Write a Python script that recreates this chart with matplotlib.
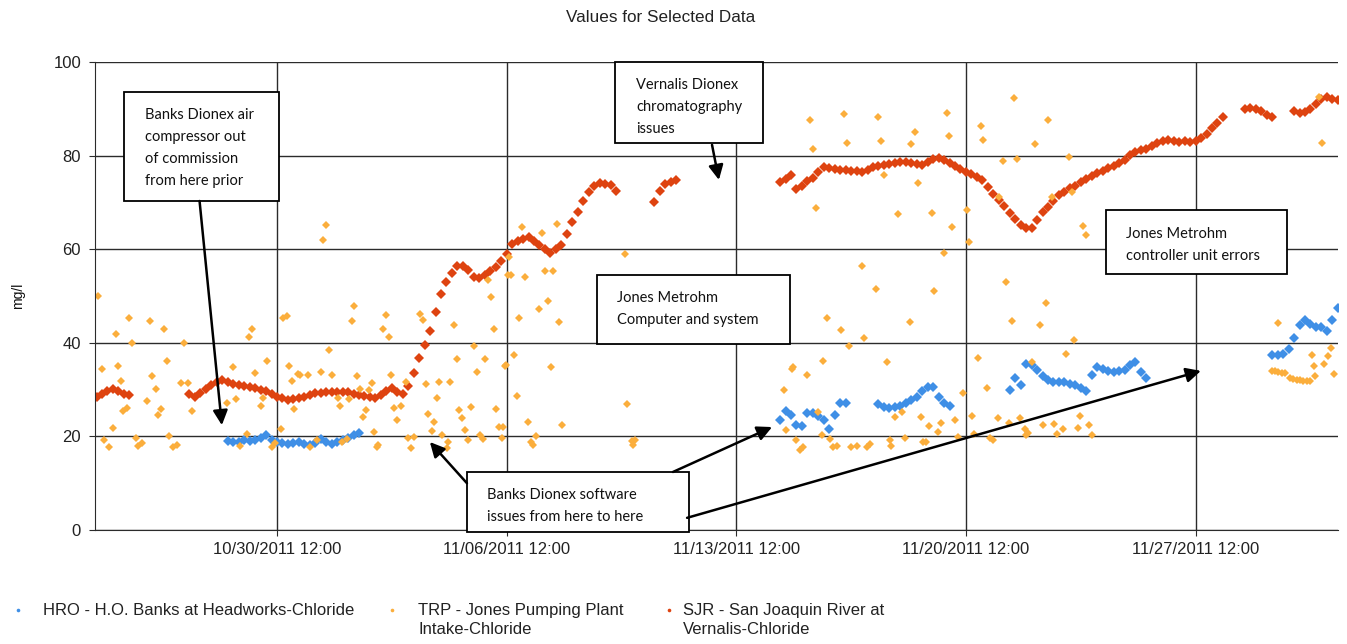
import numpy as np
import pandas as pd
import matplotlib
matplotlib.use('Agg')
import matplotlib.pyplot as plt
import matplotlib.dates as mdates
from matplotlib.patches import Rectangle
from matplotlib.lines import Line2D

# ---- data ----
# SJR - San Joaquin River at Vernalis, 4-hour readings, one list per run between gaps
sjr_starts = ['2011-10-25 00:00', '2011-10-27 20:00', '2011-11-11 00:00',
              '2011-11-14 20:00', '2011-11-29 00:00', '2011-11-30 12:00']
sjr_a = [28.5, 29.0, 29.6, 30.2, 29.8, 29.0, 28.8]
sjr_b = [29.0, 28.5, 29.3, 30.2, 31.0, 31.6, 32.0, 31.7, 31.2, 30.9, 30.7, 30.5,
         30.3, 30.0, 29.6, 29.0, 28.5, 28.1, 27.8, 27.9, 28.2, 28.5, 28.9, 29.2,
         29.3, 29.5, 29.5, 29.4, 29.5, 29.4, 29.1, 28.9, 28.7, 28.4, 28.2, 28.8,
         29.6, 30.3, 29.5, 29.0, 30.8, 33.5, 36.8, 39.5, 42.5, 46.5, 50.5, 53.0,
         54.9, 56.5, 56.4, 55.5, 54.0, 53.8, 54.5, 55.4, 56.3, 57.5, 59.0, 61.2,
         61.8, 62.2, 62.6, 61.8, 60.8, 60.0, 59.2, 60.0, 61.0, 63.3, 65.8, 68.0,
         70.2, 72.2, 73.6, 74.1, 74.0, 73.7, 72.5]
sjr_c = [70.0, 72.5, 73.9, 74.3, 74.8]
sjr_d = [74.4, 75.0, 75.8, 72.8, 73.5, 74.5, 75.3, 76.5, 77.5, 77.4, 77.2, 77.0,
         76.9, 76.8, 76.7, 76.5, 77.0, 77.6, 77.8, 78.0, 78.3, 78.5, 78.7, 78.7,
         78.4, 78.1, 78.0, 78.6, 79.2, 79.5, 79.1, 78.5, 77.8, 77.1, 76.5, 76.0,
         75.5, 74.7, 73.3, 71.9, 70.6, 69.2, 67.8, 66.4, 65.2, 64.6, 64.6, 66.2,
         67.9, 69.1, 70.4, 71.5, 72.3, 73.0, 73.6, 74.3, 75.0, 75.7, 76.3, 76.8,
         77.3, 77.8, 78.5, 79.1, 80.2, 80.8, 81.2, 81.5, 82.0, 82.6, 83.1, 83.3,
         83.1, 83.0, 83.2, 83.0, 83.1, 83.8, 84.7, 85.8, 87.0, 88.3]
sjr_e = [89.9, 90.2, 89.9, 89.5, 88.6, 88.3]
sjr_f = [89.6, 89.2, 89.4, 90.0, 91.0, 92.0, 92.5, 92.2, 91.8]

# HRO - H.O. Banks at Headworks, 4-hour readings
hro_starts = ['2011-10-29 00:00', '2011-11-14 20:00', '2011-11-17 20:00',
              '2011-11-21 20:00', '2011-11-29 20:00']
hro_a = [19.0, 18.8, 18.9, 19.2, 19.0, 19.3, 19.6, 20.2, 19.3, 18.9, 18.5, 18.3,
         18.6, 18.8, 18.4, 18.2, 18.6, 19.4, 18.9, 18.3, 18.9, 19.2, 19.6, 20.2, 20.8]
hro_b = [23.5, 25.4, 24.5, 22.5, 22.2, 25.0, 25.0, 24.4, 23.5, 21.5, 24.5, 27.1, 27.1]
hro_c = [27.0, 26.2, 26.0, 26.2, 26.5, 27.2, 27.8, 28.5, 29.6, 30.6, 30.5, 28.4,
         27.2, 26.5]
hro_d = [29.9, 32.5, 31.0, 35.5, 35.2, 34.2, 33.0, 32.0, 31.6, 31.7, 31.6, 31.3,
         31.0, 30.3, 29.8, 33.2, 34.8, 34.5, 33.9, 33.8, 34.0, 34.2, 35.2, 35.8,
         33.8, 32.4]
hro_e = [37.4, 37.3, 37.7, 38.6, 41.0, 43.8, 44.9, 44.0, 43.4, 43.3, 42.5, 44.8, 47.5]

# TRP - Jones Pumping Plant Intake, irregular samples (days after 10/24/2011 00:00)
trp_day = [1.05, 2.00, 2.63, 3.06, 1.58, 2.09, 3.68, 1.16, 1.66, 3.14, 2.70, 1.75,
           3.56, 3.78, 2.81, 2.53, 1.92, 1.82, 2.95, 2.88, 3.92, 1.50, 1.23, 1.39,
           2.20, 2.38, 2.27, 3.22, 3.44, 3.32, 5.17, 4.97, 5.24, 5.83, 5.66, 5.75,
           6.19, 6.69, 6.79, 6.61, 6.88, 6.95, 7.20, 7.02, 6.01, 6.08, 5.58, 5.37,
           6.34, 6.44,
           7.99, 7.91, 8.86, 8.78, 9.81, 9.72, 9.91, 10.86, 10.94, 11.89, 8.09, 7.15,
           7.46, 7.83, 8.17, 8.95, 9.99, 10.42, 9.39, 9.03, 9.30, 8.35, 8.69, 8.42,
           9.21, 9.13, 10.07, 10.27, 10.17, 11.03, 11.45, 11.77, 11.37, 11.11, 11.29,
           11.21, 11.54, 11.67, 11.72, 11.98, 12.05, 12.13, 12.23, 12.33, 12.41,
           12.50, 12.59, 12.69, 12.77, 12.85, 12.92, 13.02, 13.11, 13.18, 13.27,
           13.35, 13.48, 13.55, 9.47, 9.59, 9.54, 10.50, 10.68, 10.59, 7.51, 7.71,
           8.47, 8.62,
           13.98, 14.57, 15.02, 13.58, 13.63, 14.06, 14.67, 14.92, 14.75, 14.49,
           13.89, 15.11, 17.11, 13.72, 13.45, 14.84, 13.81, 17.16, 14.16, 15.18,
           13.40, 14.23, 14.31, 14.39, 17.31, 17.36, 17.41,
           22.75, 23.78, 24.83, 25.95, 22.83, 23.88, 24.91, 25.84, 25.01, 26.03,
           22.93, 25.42, 24.32, 24.75, 23.27, 23.69, 24.40, 25.78, 23.93, 23.15,
           25.08, 22.19, 22.24, 22.66, 21.96, 23.00, 22.03, 23.10, 23.36, 22.31,
           22.44, 22.54, 23.46, 23.56, 24.01, 24.17, 24.47, 24.57, 25.18, 25.23,
           25.64, 25.34, 25.54,
           26.91, 26.99, 27.95, 28.03, 28.97, 30.01, 29.60, 28.64, 29.06, 30.64,
           26.47, 27.08, 27.52, 27.60, 28.52, 30.11, 30.74, 31.06, 31.15, 26.83,
           26.53, 28.72, 29.94, 28.89, 29.77, 30.80, 30.54, 27.86, 28.13, 27.42,
           29.50, 27.68, 28.47, 28.81, 29.15, 26.13, 26.38, 26.74, 27.17, 26.64,
           27.27, 27.75, 28.23, 28.33, 29.30, 29.40, 29.32, 29.86, 30.19, 30.29,
           30.47, 30.90, 30.97, 31.25, 31.33, 26.20, 26.28,
           38.26, 38.36, 37.02, 36.82, 36.92, 37.02, 37.12, 37.22, 37.37, 37.47,
           37.58, 37.68, 37.78, 37.88, 37.98, 38.04, 38.14, 38.12, 38.42, 38.54,
           38.62, 38.73]
trp_val = [49.9, 45.2, 44.7, 43.0, 41.8, 40.0, 39.9, 34.5, 35.1, 36.2, 33.0, 31.8,
           31.5, 31.5, 30.1, 27.6, 26.0, 25.5, 25.9, 24.5, 25.4, 21.8, 19.2, 17.8,
           19.6, 18.5, 17.9, 20.1, 18.2, 17.7, 34.9, 27.1, 27.9, 33.5, 41.3, 42.9,
           36.1, 45.2, 45.7, 21.5, 35.0, 31.9, 33.2, 25.8, 26.4, 28.1, 20.6, 17.9,
           17.8, 18.5,
           65.2, 61.9, 47.9, 44.7, 46.0, 43.0, 41.3, 46.2, 44.9, 43.7, 38.5, 33.3,
           33.1, 33.8, 33.1, 32.9, 33.1, 31.7, 31.5, 30.1, 29.9, 28.1, 27.9, 26.4,
           25.6, 24.1, 26.0, 26.4, 23.6, 31.3, 31.7, 31.7, 28.1, 24.7, 23.1,
           21.2, 20.3, 17.5, 18.9, 36.5, 25.6, 23.9, 21.4, 19.2, 26.2,
           39.3, 33.7, 20.3, 19.4, 36.5, 53.4, 49.7, 43.0, 25.8, 22.1,
           19.6, 35.2, 54.5, 21.0, 18.2, 17.7, 19.6, 19.9, 17.5, 17.8, 19.2,
           18.9, 19.4,
           64.7, 63.5, 65.4, 58.4, 54.5, 54.1, 55.4, 55.4, 49.0, 47.2,
           45.2, 44.4, 59.0, 37.3, 35.1, 34.9, 28.7, 26.9, 23.0, 22.4,
           22.1, 18.9, 18.2, 20.0, 19.1, 18.2, 19.2,
           87.6, 88.9, 88.2, 85.0, 81.4, 82.6, 83.1, 82.5, 75.9, 74.1,
           68.7, 67.5, 56.5, 51.4, 45.4, 42.7, 41.0, 44.4, 39.3, 36.2,
           35.8, 34.4, 34.9, 33.1, 29.9, 25.3, 21.4, 20.3, 19.4, 19.2,
           17.1, 17.7, 17.8, 17.9, 17.8, 17.9, 17.8, 18.4, 19.2, 17.9,
           19.6, 24.2, 25.3,
           89.0, 84.2, 86.3, 83.3, 92.4, 87.6, 82.5, 78.9, 79.2, 79.8,
           67.7, 64.7, 68.4, 61.6, 71.2, 71.2, 72.2, 65.0, 63.0, 59.1,
           51.1, 52.9, 48.4, 44.7, 43.8, 40.7, 37.6, 36.8, 30.4, 29.2,
           35.8, 24.4, 23.9, 22.9, 23.9, 24.2, 22.2, 22.8, 23.4, 21.0,
           19.9, 20.5, 19.6, 19.2, 21.5, 20.8, 20.3, 22.4, 22.6, 20.5,
           21.6, 21.9, 24.4, 22.4, 20.3, 18.9, 18.7,
           92.5, 82.6, 44.3, 34.0, 34.0, 33.8, 33.6, 33.5, 32.4, 32.2,
           32.1, 32.0, 31.9, 31.9, 31.9, 37.4, 32.9, 35.0, 35.5, 37.2,
           38.8, 33.4]

series_names = ['HRO - H.O. Banks at Headworks-Chloride',
                'TRP - Jones Pumping Plant\nIntake-Chloride',
                'SJR - San Joaquin River at\nVernalis-Chloride']
tick_times = ['2011-10-30 12:00', '2011-11-06 12:00', '2011-11-13 12:00',
              '2011-11-20 12:00', '2011-11-27 12:00']

HRO_C = '#3f8fe6'
TRP_C = '#fbae3c'
SJR_C = '#de4310'

base = pd.Timestamp('2011-10-24 00:00')


def X(day):
    return mdates.date2num(base + pd.Timedelta(days=day))


def run_x(start, vals):
    return mdates.date2num(pd.date_range(start, periods=len(vals), freq='4h'))


plt.rcParams['font.family'] = ['Liberation Sans', 'DejaVu Sans']

W, H = 1347, 644
fig = plt.figure(figsize=(W / 100, H / 100), dpi=100)
ax = fig.add_axes([95 / W, 1 - 530 / H, (1338 - 95) / W, (530 - 62) / H])

mk = dict(linestyle='none', marker='D', ms=4.6, mew=0)
for st, v in zip(sjr_starts, [sjr_a, sjr_b, sjr_c, sjr_d, sjr_e, sjr_f]):
    ax.plot(run_x(st, v), v, color=SJR_C, **mk)
for st, v in zip(hro_starts, [hro_a, hro_b, hro_c, hro_d, hro_e]):
    ax.plot(run_x(st, v), v, color=HRO_C, **mk)
ax.plot([X(d) for d in trp_day], trp_val, color=TRP_C, linestyle='none',
        marker='D', ms=4.4, mew=0)

ax.set_xlim(X(0.953), X(38.84))
ax.set_ylim(0, 100)
ax.set_yticks([0, 20, 40, 60, 80, 100])
ax.set_xticks(mdates.date2num(pd.to_datetime(tick_times)))
ax.xaxis.set_major_formatter(mdates.DateFormatter('%m/%d/%Y %H:%M'))
ax.grid(True, color='#2b2b2b', lw=1.0)
ax.set_axisbelow(True)
for s in ['top', 'right']:
    ax.spines[s].set_visible(False)
for s in ['left', 'bottom']:
    ax.spines[s].set_color('#2b2b2b')
ax.tick_params(axis='both', length=4, color='#2b2b2b', labelsize=12,
               labelcolor='#222222')
ax.tick_params(axis='y', pad=6)
ax.tick_params(axis='x', pad=5)

fig.text(661 / W, 1 - 17 / H, 'Values for Selected Data', ha='center',
         va='center', fontsize=12.3, color='#222222')
fig.text(18 / W, 1 - 296 / H, 'mg/l', rotation=90, ha='center',
         va='center', fontsize=10, color='#111111')

# ---- annotation boxes and arrows ----
txt = dict(fontsize=10.5, family=['Lato', 'DejaVu Sans'], color='#111111',
           va='top', ha='left', linespacing=1.72)


def box(d0, d1, v0, v1):
    ax.add_patch(Rectangle((X(d0), v0), X(d1) - X(d0), v1 - v0, facecolor='white',
                           edgecolor='black', lw=1.3, zorder=5, clip_on=False))


def arrow(d0, v0, d1, v1):
    ax.annotate('', xy=(X(d1), v1), xytext=(X(d0), v0),
                arrowprops=dict(arrowstyle='-|>', color='black', lw=1.8,
                                mutation_scale=22, shrinkA=0, shrinkB=0),
                zorder=6, annotation_clip=False)


box(1.84, 6.56, 70.3, 93.6)
ax.text(X(2.48), 90.1, 'Banks Dionex air\ncompressor out\nof commission\nfrom here prior',
        zorder=7, **txt)
arrow(4.14, 70.3, 4.82, 22.4)

box(16.80, 21.31, 82.7, 100.0)
ax.text(X(17.44), 96.5, 'Vernalis Dionex\nchromatography\nissues', zorder=7, **txt)
arrow(19.76, 82.3, 19.97, 74.8)

box(16.25, 22.14, 39.7, 54.5)
ax.text(X(16.86), 51.0, 'Jones Metrohm\nComputer and system', zorder=7, **txt)

box(12.29, 19.06, -0.4, 12.4)
ax.text(X(12.90), 8.9, 'Banks Dionex software\nissues from here to here', zorder=7, **txt)
arrow(12.29, 10.0, 11.16, 18.8)
arrow(18.57, 12.4, 21.59, 22.0)
arrow(19.00, 2.6, 34.66, 34.0)

box(31.77, 37.28, 54.7, 68.4)
ax.text(X(32.38), 64.8, 'Jones Metrohm\ncontroller unit errors', zorder=7, **txt)

# ---- legend (laid out like the original, first lines on one row) ----
leg_colors = [HRO_C, TRP_C, SJR_C]
leg_mark_x = [18, 392, 669]
leg_text_x = [43, 418, 683]
for c, mx, tx, name in zip(leg_colors, leg_mark_x, leg_text_x, series_names):
    fig.add_artist(Line2D([mx / W], [1 - 610 / H], linestyle='none', marker='o',
                          ms=2.6, mew=0, color=c, transform=fig.transFigure))
    fig.text(tx / W, 1 - 603 / H, name, ha='left', va='top', fontsize=12,
             color='#222222', linespacing=1.3)

fig.savefig('out.png', dpi=100)
